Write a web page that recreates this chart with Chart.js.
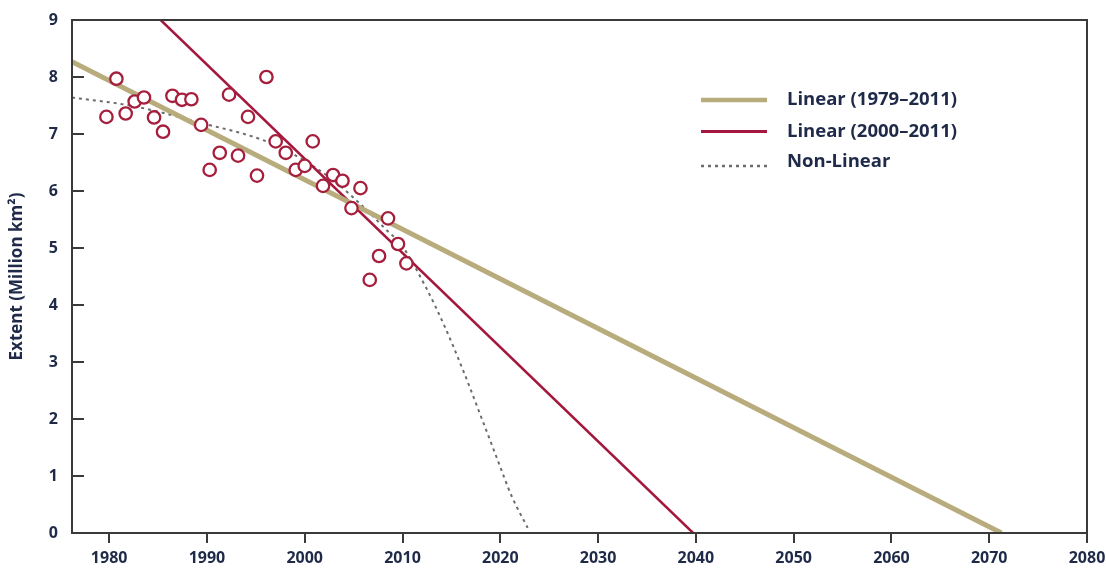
<!DOCTYPE html>
<html><head><meta charset="utf-8">
<script src="https://cdn.jsdelivr.net/npm/chart.js@4/dist/chart.umd.min.js"></script>
<style>html,body{margin:0;padding:0;background:#fff;}#wrap{width:1106px;height:572px;}</style>
</head><body><div id="wrap"><canvas id="c" width="1106" height="572"></canvas></div>
<script>
// Observed September extent (million km²), 1979–2011, positions as read on the x axis
const obsX = [1979.72,1980.74,1981.69,1982.61,1983.56,1984.59,1985.51,1986.47,1987.45,1988.41,1989.41,
  1990.28,1991.31,1992.26,1993.18,1994.20,1995.12,1996.08,1997.03,1998.06,1999.08,
  2000.00,2000.82,2001.87,2002.90,2003.86,2004.78,2005.70,2006.65,2007.60,2008.52,2009.54,2010.40];
const obsExtent = [7.30,7.97,7.36,7.57,7.64,7.29,7.04,7.67,7.60,7.61,7.16,
  6.37,6.67,7.69,6.62,7.30,6.27,8.00,6.87,6.67,6.37,
  6.44,6.87,6.09,6.28,6.18,5.70,6.05,4.44,4.86,5.52,5.07,4.73];
// Linear trend 1979–2011
const linAllX = [1976.2, 2071.25];
const linAllY = [8.27, 0];
// Linear trend 2000–2011
const linRecentX = [1985.27, 2039.72];
const linRecentY = [9, 0];
// Non-linear fit
const nonLinX = [1976.2,1982.44,1989.26,1996.08,1999.49,2002.90,2006.31,2008.69,2009.7,2012.27,2014.32,2016.16,2017.9,2019.64,2021.18,2022.8];
const nonLinY = [7.64,7.49,7.20,6.87,6.58,6.19,5.67,5.26,5.10,4.35,3.62,2.87,2.10,1.32,0.64,0.09];
const xTickValues = [1980,1990,2000,2010,2020,2030,2040,2050,2060,2070,2080];
const yTickValues = [0,1,2,3,4,5,6,7,8,9];
const seriesLabels = ['Observed','Linear (1979–2011)','Linear (2000–2011)','Non-Linear'];
const yTitle = 'Extent (Million km²)';

const TXT = '#1e2a48';
const FONT = '"Open Sans", Lato, sans-serif';
const pts = (xs, ys) => xs.map((v, i) => ({x: v, y: ys[i]}));

const framePlugin = {
  id: 'frameLegend',
  afterDraw(chart) {
    const {ctx, chartArea: a, scales: {y}} = chart;
    ctx.save();
    ctx.strokeStyle = '#3a3a3a';
    ctx.lineWidth = 2;
    ctx.strokeRect(a.left, a.top, a.right - a.left, a.bottom - a.top);
    y.ticks.forEach(t => {
      const py = Math.round(y.getPixelForValue(t.value));
      ctx.beginPath(); ctx.moveTo(a.left, py); ctx.lineTo(a.left + 12, py); ctx.stroke();
    });
    // legend
    const rows = [{ds: 1, y: 100, ty: 100}, {ds: 2, y: 131.5, ty: 131.5}, {ds: 3, y: 166, ty: 162}];
    ctx.font = 'bold 18.5px ' + FONT;
    ctx.textBaseline = 'middle';
    ctx.textAlign = 'left';
    rows.forEach(r => {
      const d = chart.data.datasets[r.ds];
      ctx.save();
      ctx.strokeStyle = d.borderColor;
      ctx.lineWidth = r.ds === 1 ? 4.5 : (r.ds === 2 ? 3 : 2.5);
      ctx.setLineDash(d.borderDash || []);
      ctx.beginPath(); ctx.moveTo(701, r.y); ctx.lineTo(767, r.y); ctx.stroke();
      ctx.restore();
      ctx.fillStyle = TXT;
      ctx.fillText(d.label, 787, r.ty);
    });
    ctx.restore();
  }
};

new Chart(document.getElementById('c'), {
  type: 'scatter',
  data: {
    datasets: [
      {label: seriesLabels[0], data: pts(obsX, obsExtent), showLine: false,
       pointRadius: 6.2, pointBorderWidth: 2.3, borderColor: '#a51f3d', backgroundColor: '#ffffff',
       pointBackgroundColor: '#ffffff', pointBorderColor: '#a51f3d'},
      {label: seriesLabels[1], data: pts(linAllX, linAllY), showLine: true, pointRadius: 0,
       borderColor: '#b8ab7c', borderWidth: 5},
      {label: seriesLabels[2], data: pts(linRecentX, linRecentY), showLine: true, pointRadius: 0,
       borderColor: '#a3183c', borderWidth: 2.5},
      {label: seriesLabels[3], data: pts(nonLinX, nonLinY), showLine: true, pointRadius: 0,
       borderColor: '#6b6b6b', borderWidth: 2, borderDash: [3, 4], cubicInterpolationMode: 'monotone'}
    ]
  },
  options: {
    responsive: false, animation: false, devicePixelRatio: 1,
    layout: {padding: {top: 20, right: 19, bottom: 0, left: 0}},
    plugins: {legend: {display: false}, tooltip: {enabled: false}},
    scales: {
      x: {
        type: 'linear', min: 1976.2, max: 2080,
        afterBuildTicks: s => { s.ticks = xTickValues.map(v => ({value: v})); },
        afterFit: s => { s.height = 39; s.paddingLeft = 0; s.paddingRight = 0; },
        border: {display: false},
        grid: {drawOnChartArea: false, drawTicks: true, tickLength: 10, color: '#3a3a3a', lineWidth: 2},
        ticks: {color: TXT, font: {family: FONT, weight: 'bold', size: 16}, padding: 6, maxRotation: 0,
                callback: v => String(v)}
      },
      y: {
        min: 0, max: 9,
        afterBuildTicks: s => { s.ticks = yTickValues.map(v => ({value: v})); },
        afterFit: s => { s.width = 72; s.paddingTop = 0; s.paddingBottom = 0; },
        border: {display: false},
        grid: {display: false, drawTicks: false},
        ticks: {color: TXT, font: {family: FONT, weight: 'bold', size: 16}, padding: 14},
        title: {display: true, text: yTitle, color: TXT, font: {family: FONT, weight: 'bold', size: 17},
                padding: {top: 7, bottom: 0}}
      }
    }
  },
  plugins: [framePlugin]
});
</script></body></html>
